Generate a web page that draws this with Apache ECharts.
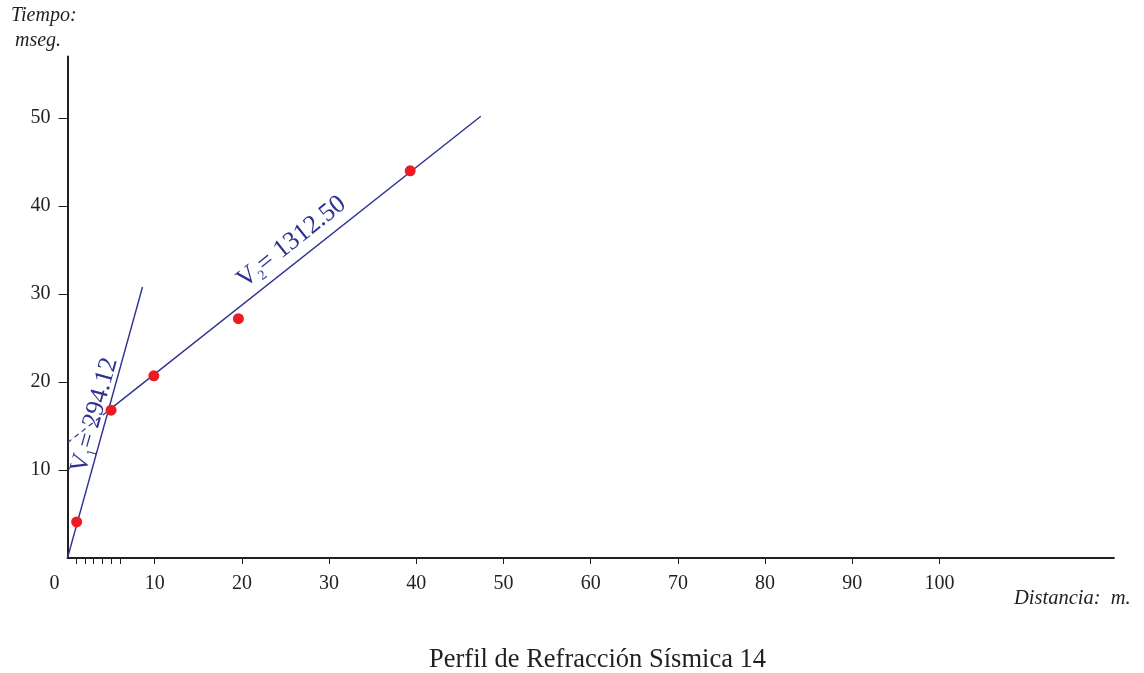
<!DOCTYPE html>
<html>
<head>
<meta charset="utf-8">
<script src="https://cdn.jsdelivr.net/npm/echarts@6/dist/echarts.min.js"></script>
<style>html,body{margin:0;padding:0;background:#fff;}#c{width:1144px;height:673px;}</style>
</head>
<body>
<div id="c"></div>
<script>
// Observed arrivals
const distances = [1.05, 5.0, 9.9, 19.6, 39.3];
const times = [4.1, 16.8, 20.7, 27.2, 44.0];
// Fitted velocity lines (endpoints)
const lineV1X = [0, 8.6];
const lineV1Y = [0, 30.8];
const lineV2DashX = [0, 4.5];
const lineV2DashY = [13.1, 16.6];
const lineV2X = [4.5, 47.4];
const lineV2Y = [16.6, 50.2];
// Axis ticks and labels
const xTickValues = [1, 2, 3, 4, 5, 6, 10, 20, 30, 40, 50, 60, 70, 80, 90, 100];
const xLabelValues = [0, 10, 20, 30, 40, 50, 60, 70, 80, 90, 100];
const yTickValues = [10, 20, 30, 40, 50];
const v1Text = '294.12';
const v2Text = '1312.50';
const titleText = 'Perfil de Refracción Sísmica 14';

const zip = (a, b) => a.map((v, i) => [v, b[i]]);
const FONT = '"Liberation Serif", "DejaVu Serif", serif';
const INK = '#231f20';
const NAVY = '#2e3192';

const chart = echarts.init(document.getElementById('c'), null, {renderer: 'canvas'});
const annRich = {
  v: {fontSize: 26, lineHeight: 30, color: NAVY, fontFamily: FONT},
  s: {fontSize: 14, lineHeight: 14, color: NAVY, fontFamily: FONT, verticalAlign: 'bottom'}
};
chart.setOption({
  animation: false,
  backgroundColor: '#fff',
  title: {
    text: titleText, left: 424, top: 642,
    textStyle: {fontFamily: FONT, fontSize: 26.5, fontWeight: 'normal', color: INK}
  },
  grid: {left: 67.5, top: 56.4, width: 1046.4, height: 501.6},
  xAxis: {
    type: 'value', min: 0, max: 120,
    splitLine: {show: false},
    axisLine: {show: true, lineStyle: {color: INK, width: 2}},
    axisTick: {show: true, customValues: xTickValues, length: 6, lineStyle: {color: INK, width: 1}},
    axisLabel: {
      show: true, customValues: xLabelValues, margin: 16,
      fontFamily: FONT, fontSize: 20, color: INK,
      formatter: v => v === 0 ? '{z|0}' : String(v),
      rich: {z: {padding: [0, 26, 0, 0], fontFamily: FONT, fontSize: 20, color: INK}}
    }
  },
  yAxis: {
    type: 'value', min: 0, max: 57,
    splitLine: {show: false},
    axisLine: {show: true, lineStyle: {color: INK, width: 2}},
    axisTick: {show: true, customValues: yTickValues, length: 9, lineStyle: {color: INK, width: 1}},
    axisLabel: {show: true, customValues: yTickValues, margin: 17, fontFamily: FONT, fontSize: 20, color: INK}
  },
  graphic: [
    {type: 'text', left: 11, top: 6, style: {text: 'Tiempo:', font: 'italic 20px ' + FONT, fill: INK}},
    {type: 'text', left: 15, top: 31, style: {text: 'mseg.', font: 'italic 20px ' + FONT, fill: INK}},
    {type: 'text', left: 1014, top: 589, style: {text: 'Distancia:  m.', font: 'italic 20.5px ' + FONT, fill: INK}}
  ],
  series: [
    {type: 'line', data: zip(lineV1X, lineV1Y), symbol: 'none', lineStyle: {color: NAVY, width: 1.4}, z: 2},
    {type: 'line', data: zip(lineV2DashX, lineV2DashY), symbol: 'none', lineStyle: {color: NAVY, width: 1.2, type: [5, 4]}, z: 2},
    {type: 'line', data: zip(lineV2X, lineV2Y), symbol: 'none', lineStyle: {color: NAVY, width: 1.4}, z: 2},
    {type: 'scatter', data: zip(distances, times), symbol: 'circle', symbolSize: 11, itemStyle: {color: '#ed1c24', opacity: 1}, z: 5},
    {
      type: 'scatter', symbolSize: 0, silent: true, z: 6,
      itemStyle: {opacity: 1},
      data: [
        {value: [3.1, 16.2], label: {rotate: 74.5, formatter: '{v|V}{s|1}{v|= ' + v1Text + '}'}},
        {value: [25.7, 35.9], label: {rotate: 38.5, formatter: '{v|V}{s|2}{v|= ' + v2Text + '}'}}
      ],
      label: {show: true, position: 'inside', align: 'center', verticalAlign: 'middle', opacity: 1, rich: annRich}
    }
  ]
});
</script>
</body>
</html>
